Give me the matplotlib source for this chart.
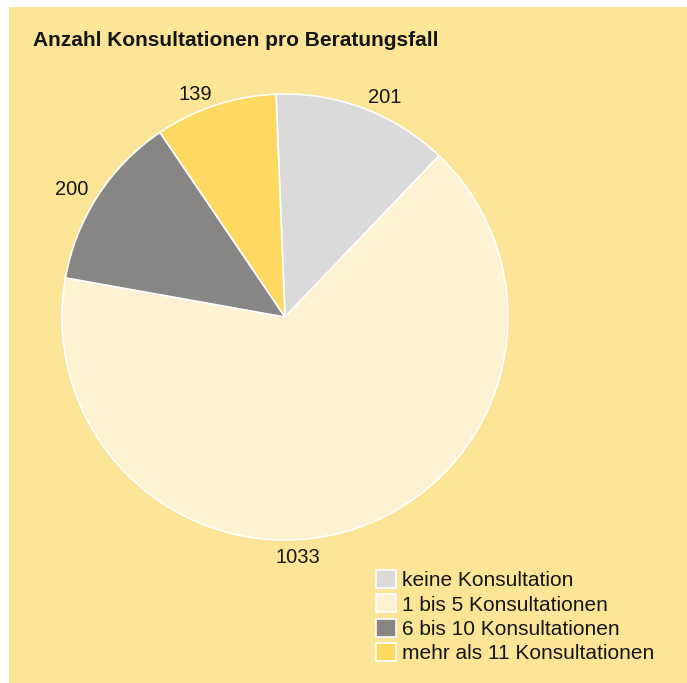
import numpy as np
import matplotlib
matplotlib.use("Agg")
import matplotlib.pyplot as plt
from matplotlib.patches import Rectangle

plt.rcParams['font.family'] = ['Liberation Sans', 'DejaVu Sans']

categories = ["keine Konsultation", "1 bis 5 Konsultationen",
              "6 bis 10 Konsultationen", "mehr als 11 Konsultationen"]
values = [201, 1033, 200, 139]
colors = ["#dadada", "#fff2d2", "#878685", "#fed962"]
bg = "#fde597"

W, H = 687, 683
fig = plt.figure(figsize=(W / 100, H / 100), dpi=100)
fig.patch.set_facecolor("white")
fig.add_artist(Rectangle((9 / W, 0), 1 - 9 / W, 1 - 7 / H, transform=fig.transFigure,
                         facecolor=bg, edgecolor="none", zorder=0))

cx, cy, r = 285, 317, 223
ax = fig.add_axes([(cx - r) / W, (H - cy - r) / H, 2 * r / W, 2 * r / H])
ax.axis("off")

start = 92.3
wedges, _ = ax.pie(values, colors=colors, startangle=start, counterclock=False,
                   radius=1, wedgeprops=dict(edgecolor="white", linewidth=1.2))
ax.set_xlim(-1, 1)
ax.set_ylim(-1, 1)

# labels next to slice midpoints, aligned away from the pie
total = sum(values)
ang = start
for i, v in enumerate(values):
    span = v / total * 360
    mid = ang - span / 2
    ang -= span
    dist = 1.05
    ha = "left" if np.cos(np.radians(mid)) > 0 else "right"
    if i == 1:
        mid, dist, ha = -87, 1.08, "center"
    ax.text(dist * np.cos(np.radians(mid)), dist * np.sin(np.radians(mid)), str(v),
            ha=ha, va="center", fontsize=14.5, color="#151515", clip_on=False)

fig.text(33 / W, 1 - 46 / H, "Anzahl Konsultationen pro Beratungsfall",
         fontsize=15, fontweight="bold", color="#151515", va="baseline")

leg = fig.legend(wedges, categories, loc="upper left",
                 bbox_to_anchor=(376 / W, 1 - 570 / H), frameon=False,
                 fontsize=15, handlelength=0.96, handleheight=0.96,
                 handletextpad=0.3, labelspacing=0.2, borderpad=0,
                 borderaxespad=0, labelcolor="#151515")

fig.savefig("out.png", dpi=100, facecolor=fig.get_facecolor())
